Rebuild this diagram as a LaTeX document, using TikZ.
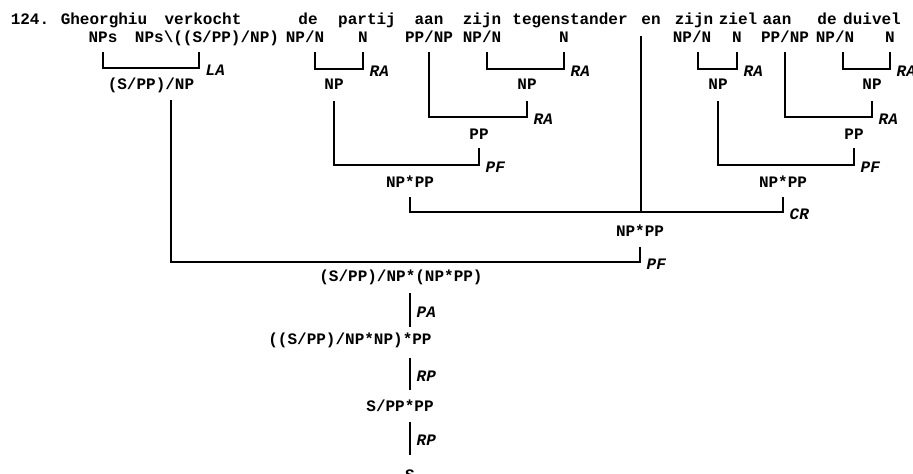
\documentclass[tikz,border=0pt]{standalone}
\usepackage{fontspec}
\setmonofont{Liberation Mono}

\begin{document}
\begin{tikzpicture}[
  x=0.5pt, y=-0.5pt,
  every node/.style={font=\fontsize{8}{9}\selectfont\ttfamily\bfseries, inner sep=1pt},
  cat/.style={anchor=base},
  lbl/.style={anchor=west, xshift=2pt, yshift=-1pt, font=\fontsize{8}{9}\selectfont\ttfamily\bfseries\itshape},
  br/.style={line width=0.65pt},
  conj/.style={line width=1pt}
]
  \useasboundingbox (0,0) rectangle (913,473);
  \clip (0,0) rectangle (913,473);

  % sentence
  \node[cat] (w0) at (30,24) {124.};
  \node[cat] (w1) at (104,24) {Gheorghiu};
  \node[cat] (w2) at (203,24) {verkocht};
  \node[cat] (w3) at (308,24) {de};
  \node[cat] (w4) at (367,24) {partij};
  \node[cat] (w5) at (429,24) {aan};
  \node[cat] (w6) at (482,24) {zijn};
  \node[cat] (w7) at (570,24) {tegenstander};
  \node[cat] (w8) at (651,24) {en};
  \node[cat] (w9) at (694,24) {zijn};
  \node[cat] (w10) at (738,24) {ziel};
  \node[cat] (w11) at (777,24) {aan};
  \node[cat] (w12) at (827,24) {de};
  \node[cat] (w13) at (872,24) {duivel};

  % lexical categories
  \node[cat] (c1) at (103,42) {NPs};
  \node[cat] (c2) at (207,42) {NPs\textbackslash((S/PP)/NP)};
  \node[cat] (c3) at (305,42) {NP/N};
  \node[cat] (c4) at (363,42) {N};
  \node[cat] (c5) at (429,42) {PP/NP};
  \node[cat] (c6) at (482,42) {NP/N};
  \node[cat] (c7) at (564,42) {N};
  \node[cat] (c8) at (692,42) {NP/N};
  \node[cat] (c9) at (737,42) {N};
  \node[cat] (c10) at (785,42) {PP/NP};
  \node[cat] (c11) at (835,42) {NP/N};
  \node[cat] (c12) at (890,42) {N};

  % derived categories
  \node[cat] (r1) at (151,89) {(S/PP)/NP};
  \node[cat] (r2) at (334,89) {NP};
  \node[cat] (r3) at (527,89) {NP};
  \node[cat] (r4) at (718,89) {NP};
  \node[cat] (r5) at (872,89) {NP};
  \node[cat] (r6) at (479,139) {PP};
  \node[cat] (r7) at (854,139) {PP};
  \node[cat] (r8) at (410,187) {NP*PP};
  \node[cat] (r9) at (783,187) {NP*PP};
  \node[cat] (r10) at (640,236) {NP*PP};
  \node[cat] (r11) at (401,281) {(S/PP)/NP*(NP*PP)};
  \node[cat] (r12) at (350,344) {((S/PP)/NP*NP)*PP};
  \node[cat] (r13) at (400,411) {S/PP*PP};
  \node[cat] (r14) at (410,480) {S};

  % binary steps
  \draw[br] (c1 |- 0,52) |- ([xshift=-4pt]c2 |- 0,68) node[lbl] {LA} -- ++(0,-16);
  \draw[br] ([xshift=5pt]c3 |- 0,52) |- (c4 |- 0,69) node[lbl] {RA} -- ++(0,-17);
  \draw[br] ([xshift=2.5pt]c6 |- 0,52) |- (c7 |- 0,69) node[lbl] {RA} -- ++(0,-17);
  \draw[br] ([xshift=3pt]c8 |- 0,52) |- (c9 |- 0,69) node[lbl] {RA} -- ++(0,-17);
  \draw[br] ([xshift=4pt]c11 |- 0,52) |- (c12 |- 0,69) node[lbl] {RA} -- ++(0,-17);
  \draw[br] (c5 |- 0,52) |- (r3 |- 0,117) node[lbl] {RA} -- ++(0,-16);
  \draw[br] (c10 |- 0,52) |- (r5 |- 0,117) node[lbl] {RA} -- ++(0,-16);
  \draw[br] (r2 |- 0,101) |- (r6 |- 0,165) node[lbl] {PF} -- ++(0,-17);
  \draw[br] (r4 |- 0,101) |- (r7 |- 0,165) node[lbl] {PF} -- ++(0,-17);
  \draw[br] (r8 |- 0,197) |- (r9 |- 0,212) node[lbl] {CR} -- ++(0,-15);
  \draw[conj] ([xshift=-5pt]w8 |- 0,36) -- ([xshift=-5pt]w8 |- 0,212);
  \draw[br] ([xshift=10pt]r1 |- 0,100) |- (r10 |- 0,262) node[lbl] {PF} -- ++(0,-15);

  % unary steps
  \draw[br] ([xshift=4.5pt]r11 |- 0,293) -- node[lbl] {PA} ([xshift=4.5pt]r11 |- 0,327);
  \draw[br] ([xshift=4.5pt]r11 |- 0,358) -- node[lbl] {RP} ([xshift=4.5pt]r11 |- 0,390);
  \draw[br] ([xshift=4.5pt]r11 |- 0,422) -- node[lbl] {RP} ([xshift=4.5pt]r11 |- 0,455);
\end{tikzpicture}
\end{document}
